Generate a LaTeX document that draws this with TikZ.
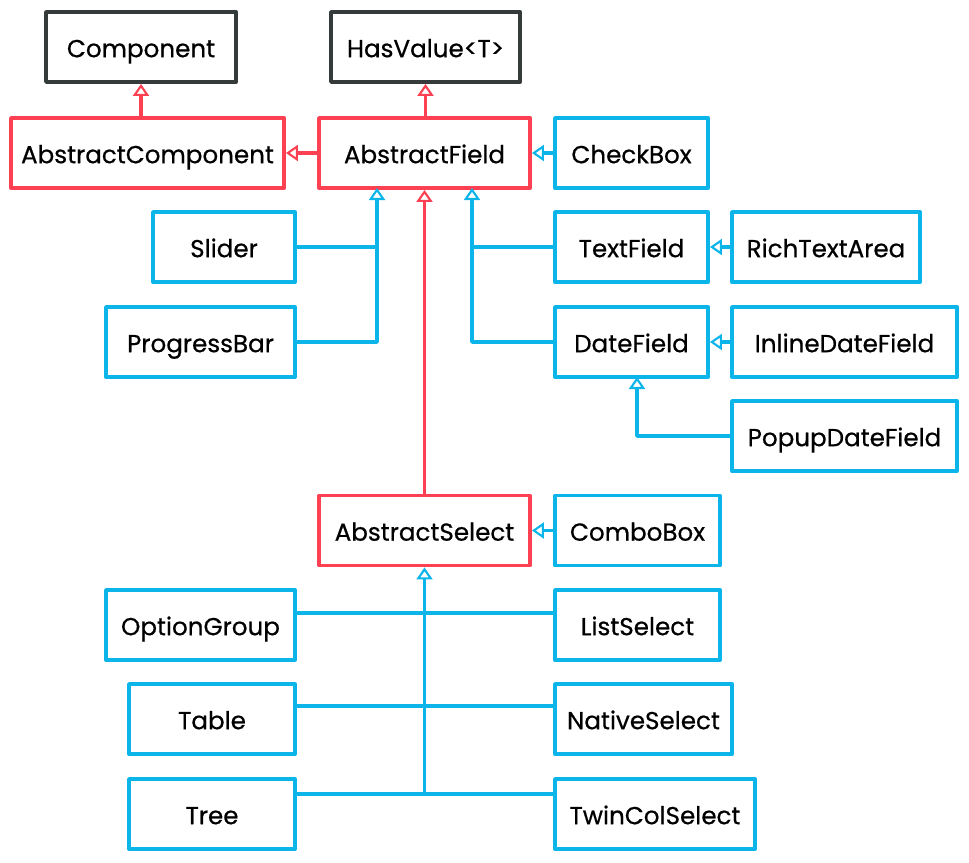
\documentclass[tikz,border=0pt]{standalone}
\usepackage{fontspec}
\setmainfont{Poppins}[UprightFeatures={FakeBold=0.6}]
\usetikzlibrary{arrows.meta}
\definecolor{vred}{HTML}{FE4152}
\definecolor{vblue}{HTML}{0BB5EA}
\definecolor{vgray}{HTML}{353A3B}
\tikzset{
  box/.style={draw=#1, line width=2.2pt, minimum height=1.4cm, inner sep=0pt,
    text height=11.6pt, text depth=0pt},
  redline/.style={draw=vred, line width=2.1pt},
  blueline/.style={draw=vblue, line width=2.1pt},
}
\begin{document}
\begin{tikzpicture}[x=0.02cm, y=-0.02cm, font=\fontsize{14}{16}\selectfont, line join=round,
  >={Triangle[open,length=0.24cm,width=0.32cm,fill=white,line width=1.2pt]}]
\useasboundingbox (0,0) rectangle (969,862);
% classes
\foreach \n/\cx/\cy/\w/\c/\t in {
  comp/141/47/190/vgray/Component,
  hasv/425.5/47/189/vgray/HasValue<T>,
  acomp/147.5/153/273/vred/AbstractComponent,
  afield/424.5/153/211/vred/AbstractField,
  check/631.5/153/153/vblue/CheckBox,
  slider/224/247/142/vblue/Slider,
  text/631.5/247/153/vblue/TextField,
  rich/826/247/188/vblue/RichTextArea,
  progress/200.5/342/189/vblue/ProgressBar,
  date/631.5/342/153/vblue/DateField,
  inline/844.5/342/225/vblue/InlineDateField,
  popup/844.5/436/225/vblue/PopupDateField,
  asel/424.5/530.5/211/vred/AbstractSelect,
  combo/637.5/530.5/165/vblue/ComboBox,
  optgrp/200.5/625/189/vblue/OptionGroup,
  list/637.5/625/165/vblue/ListSelect,
  table/212/719/166/vblue/Table,
  native/643.5/719/177/vblue/NativeSelect,
  tree/212/814/166/vblue/Tree,
  twin/655/814/200/vblue/TwinColSelect}
  \node[box=\c, minimum width=\w*0.02cm] (\n) at (\cx,\cy) {\t};
% joints
\coordinate (fl) at (377,188);
\coordinate (fr) at (472,188);
\coordinate (dj) at (637,377);
\coordinate (oj) at ([yshift=0.24cm]optgrp.east);
\coordinate (tj) at ([yshift=0.26cm]table.east);
\coordinate (rj) at ([yshift=0.4cm]tree.east);
% red inheritance
\draw[redline,->] (comp.south |- acomp.north) -- (comp.south);
\draw[redline,->] (hasv.south |- afield.north) -- (hasv.south);
\draw[redline,->] (afield.west) -- (acomp.east);
\draw[redline,->] (asel.north) -- (afield.south);
% blue inheritance
\draw[blueline,->] (check.west) -- (afield.east);
\draw[blueline,->] (progress.east) -| (fl);
\draw[blueline] (slider.east) -- (slider.east -| fl);
\draw[blueline,->] (date.west) -| (fr);
\draw[blueline] (text.west) -- (text.west -| fr);
\draw[blueline,->] (rich.west) -- (text.east);
\draw[blueline,->] (inline.west) -- (date.east);
\draw[blueline,->] (popup.west) -| (dj);
\draw[blueline,->] (combo.west) -- (asel.east);
\draw[blueline,->] (asel.south |- rj) -- (asel.south);
\draw[blueline] (oj) -- (oj -| list.west);
\draw[blueline] (tj) -- (tj -| native.west);
\draw[blueline] (rj) -- (rj -| twin.west);
\end{tikzpicture}
\end{document}
